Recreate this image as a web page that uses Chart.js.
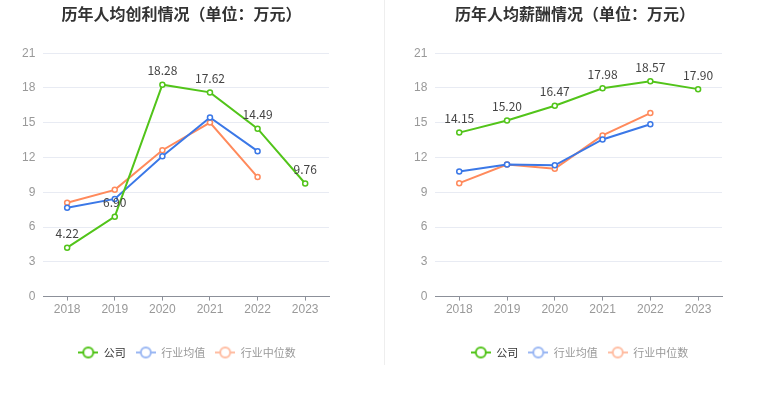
<!DOCTYPE html>
<html>
<head>
<meta charset="utf-8">
<script src="https://cdn.jsdelivr.net/npm/chart.js@4/dist/chart.umd.min.js"></script>
<style>
  body { margin: 0; background: #fff; font-family: "Noto Sans CJK SC", "Noto Sans", sans-serif; }
  .wrap { display: flex; width: 765px; height: 393px; }
  .left { position: relative; width: 384px; height: 370px; }
  .right { position: relative; width: 373px; height: 370px; margin-left: 7px; }
  .sep { width: 1px; height: 365px; background: #eeeeee; }
</style>
</head>
<body>
<div class="wrap">
  <div class="left"><canvas id="profitChart"></canvas></div>
  <div class="sep"></div>
  <div class="right"><canvas id="salaryChart"></canvas></div>
</div>
<script>
// Years and series (unit: 万元)
const years = ['2018', '2019', '2020', '2021', '2022', '2023'];
const yTicks = [0, 3, 6, 9, 12, 15, 18, 21];
const seriesNames = ['公司', '行业均值', '行业中位数'];

// 历年人均创利
const profitCompany = [4.22, 6.90, 18.28, 17.62, 14.49, 9.76];
const profitMean = [7.67, 8.43, 12.11, 15.45, 12.55, null];
const profitMedian = [8.10, 9.21, 12.63, 15.02, 10.31, null];

// 历年人均薪酬
const salaryCompany = [14.15, 15.20, 16.47, 17.98, 18.57, 17.90];
const salaryMean = [10.80, 11.39, 11.33, 13.56, 14.87, null];
const salaryMedian = [9.79, 11.39, 11.04, 13.91, 15.83, null];

const lineColors = ['#52c41a', '#3b78e7', '#ff8a5c'];
const legendColors = ['#52c41a', '#9ab7f3', '#ffbda2'];
const legendText = ['#333333', '#999999', '#999999'];

// legend symbol: short line with hollow circle
function legendIcon(color) {
    const c = document.createElement('canvas');
    c.width = 20; c.height = 14;
    const g = c.getContext('2d');
    g.strokeStyle = color;
    g.lineWidth = 2;
    g.beginPath(); g.moveTo(0, 7); g.lineTo(20, 7); g.stroke();
    g.fillStyle = '#fff';
    g.beginPath(); g.arc(10, 7, 5, 0, Math.PI * 2); g.fill(); g.stroke();
    return c;
}
const icons = legendColors.map(legendIcon);

// value labels above the company line
const valueLabels = {
    id: 'valueLabels',
    afterDatasetsDraw(chart) {
        const ctx = chart.ctx;
        const meta = chart.getDatasetMeta(0);
        const data = chart.data.datasets[0].data;
        ctx.save();
        ctx.font = '12px "Noto Sans CJK SC", sans-serif';
        ctx.fillStyle = '#444';
        ctx.textAlign = 'center';
        ctx.textBaseline = 'middle';
        meta.data.forEach((pt, i) => {
            ctx.fillText(data[i].toFixed(2), pt.x, pt.y - 14);
        });
        ctx.restore();
    }
};

// nudge title and legend sideways so they sit where the reference has them
const shiftBoxes = {
    id: 'shiftBoxes',
    afterLayout(chart, args, opts) {
        const t = chart.titleBlock, l = chart.legend;
        if (t) { t.left += opts.title; t.right += opts.title; }
        if (l) {
            l.left += opts.legend; l.right += opts.legend;
            if (l.legendHitBoxes) l.legendHitBoxes.forEach(b => { b.left += opts.legend; });
        }
    }
};

function makeChart(id, title, company, mean, median, rightPad, titleShift, legendShift) {
    const sets = [company, mean, median].map((d, i) => ({
        label: seriesNames[i],
        data: d,
        borderColor: lineColors[i],
        backgroundColor: '#fff',
        borderWidth: 2,
        pointRadius: 2.5,
        pointBorderWidth: 1.5,
        pointBackgroundColor: '#fff',
        pointBorderColor: lineColors[i],
        tension: 0,
        order: i
    }));
    return new Chart(document.getElementById(id), {
        type: 'line',
        data: { labels: years, datasets: sets },
        options: {
            responsive: true,
            maintainAspectRatio: false,
            animation: false,
            layout: { padding: { left: 14, right: rightPad, bottom: 2 } },
            plugins: {
                shiftBoxes: { title: titleShift, legend: legendShift },
                title: {
                    display: true,
                    text: title,
                    color: '#333',
                    font: { size: 16, weight: 'bold', family: '"Noto Sans CJK SC", sans-serif' },
                    padding: { top: 4, bottom: 30 }
                },
                legend: {
                    position: 'bottom',
                    labels: {
                        usePointStyle: true,
                        pointStyleWidth: 20,
                        boxHeight: 12,
                        padding: 10,
                        font: { size: 11, family: '"Noto Sans CJK SC", sans-serif' },
                        generateLabels: (chart) => chart.data.datasets.map((ds, i) => ({
                            text: ds.label,
                            pointStyle: icons[i],
                            fontColor: legendText[i],
                            fillStyle: '#fff',
                            strokeStyle: legendColors[i],
                            lineWidth: 0,
                            datasetIndex: i
                        }))
                    }
                },
                tooltip: { enabled: false }
            },
            scales: {
                x: {
                    offset: true,
                    afterFit: (axis) => { axis.height += 18; },
                    grid: { display: true, drawOnChartArea: false, drawTicks: true, tickLength: 4, color: '#8c9099', offset: false },
                    border: { color: '#8c9099' },
                    ticks: { color: '#999', font: { size: 12 }, padding: 2 }
                },
                y: {
                    min: 0,
                    max: 21,
                    afterBuildTicks: (axis) => { axis.ticks = yTicks.map(v => ({ value: v })); },
                    grid: { color: '#e8ebf3', drawTicks: false },
                    border: { display: false },
                    ticks: { color: '#999', font: { size: 12 }, padding: 8 }
                }
            }
        },
        plugins: [valueLabels, shiftBoxes]
    });
}

makeChart('profitChart', '历年人均创利情况（单位：万元）', profitCompany, profitMean, profitMedian, 55, 10, 15.5);
makeChart('salaryChart', '历年人均薪酬情况（单位：万元）', salaryCompany, salaryMean, salaryMedian, 43, 11, 15.5);
</script>
</body>
</html>
